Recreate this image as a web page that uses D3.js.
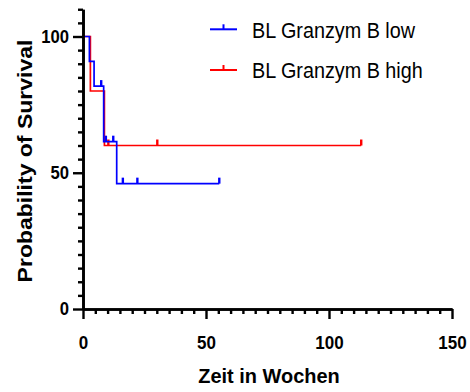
<!DOCTYPE html>
<html><head><meta charset="utf-8">
<script src="https://cdn.jsdelivr.net/npm/d3@7"></script>
<style>body{margin:0;background:#fff}svg{display:block}text{font-family:"Liberation Sans",Arial,sans-serif}</style>
</head><body>
<svg id="c" width="470" height="392"></svg>
<script>
// Kaplan-Meier step data (time in weeks, survival in %)
const lowTimes = [0, 2.6, 4.5, 8.4, 13.7];
const lowSurv = [100, 90.9, 81.8, 61.4, 46.0];
const lowEnd = 55.4;
const lowCensor = [7.4, 9.3, 12.3, 16.2, 22.1, 55.4];

const highTimes = [0, 3.0, 8.7];
const highSurv = [100, 80, 60];
const highEnd = 113.1;
const highCensor = [10.3, 30.2, 113.1];

const seriesNames = ["BL Granzym B low", "BL Granzym B high"];
const seriesColors = ["#0000ff", "#ff0000"];

const xMajor = [0, 50, 100, 150];
const yMajor = [0, 50, 100];
const xTitle = "Zeit in Wochen";
const yTitle = "Probability of Survival";

const svg = d3.select("#c");
const x = d3.scaleLinear().domain([0, 150]).range([83, 452]);
const y = d3.scaleLinear().domain([0, 110]).range([309, 9.25]);

const xMinor = d3.range(0, 151, 5).filter(v => v % 50 !== 0);
const yMinor = d3.range(0, 111, 5).filter(v => v % 50 !== 0);

// curves
const stepLine = d3.line().curve(d3.curveStepAfter).x(d => x(d[0])).y(d => y(d[1]));
function survAt(times, surv, t){ let s = surv[0]; for (let i=0;i<times.length;i++) if (times[i] <= t) s = surv[i]; return s; }
const series = [
  {times: lowTimes, surv: lowSurv, end: lowEnd, cens: lowCensor},
  {times: highTimes, surv: highSurv, end: highEnd, cens: highCensor}
];
[1, 0].forEach(i => {
  const s = series[i];
  const pts = s.times.map((t, j) => [t, s.surv[j]]);
  pts.push([s.end, s.surv[s.surv.length-1]]);
  svg.append("path").attr("d", stepLine(pts)).attr("fill", "none")
    .attr("stroke", seriesColors[i]).attr("stroke-width", 1.7);
  svg.append("g").selectAll("line").data(s.cens).join("line")
    .attr("x1", d => x(d)).attr("x2", d => x(d))
    .attr("y1", d => y(survAt(s.times, s.surv, d)))
    .attr("y2", d => y(survAt(s.times, s.surv, d)) - 6)
    .attr("stroke", seriesColors[i]).attr("stroke-width", 2.4);
});

// library axes: minor ticks, then major ticks with labels
const gx = svg.append("g").attr("transform", `translate(0,${y(0)})`);
gx.append("g").call(d3.axisBottom(x).tickValues(xMinor).tickSize(5).tickSizeOuter(0).tickFormat(""));
gx.append("g").call(d3.axisBottom(x).tickValues(xMajor).tickSize(10).tickSizeOuter(0).tickPadding(17).tickFormat(d3.format("d")));
const gy = svg.append("g").attr("transform", `translate(${x(0)},0)`);
gy.append("g").call(d3.axisLeft(y).tickValues(yMinor).tickSize(5).tickSizeOuter(0).tickFormat(""));
gy.append("g").call(d3.axisLeft(y).tickValues(yMajor).tickSize(10).tickSizeOuter(0).tickPadding(4).tickFormat(d3.format("d")));

svg.selectAll(".domain").attr("stroke", "#000").attr("stroke-width", 2.6);
svg.selectAll(".tick line").attr("stroke", "#000").attr("stroke-width", 2.4);
svg.selectAll(".tick text").attr("font-size", 18.5).attr("font-weight", "bold").attr("fill", "#000")
  .attr("font-family", "Liberation Sans, Arial, sans-serif");
gx.selectAll(".tick text").attr("transform", "scale(0.92,1)");
gy.selectAll(".tick text").attr("transform", "scale(0.9,1)").attr("x", -14 / 0.9);

// legend
const legY = [29.3, 70];
seriesNames.forEach((n, i) => {
  const g = svg.append("g");
  g.append("line").attr("x1", 210).attr("x2", 237).attr("y1", legY[i]).attr("y2", legY[i])
    .attr("stroke", seriesColors[i]).attr("stroke-width", 2);
  g.append("line").attr("x1", 223.5).attr("x2", 223.5).attr("y1", legY[i]).attr("y2", legY[i]-5)
    .attr("stroke", seriesColors[i]).attr("stroke-width", 2);
  g.append("text").attr("transform", `translate(252,${legY[i] + 8.4}) scale(0.9,1)`)
    .attr("font-size", 22).attr("fill", "#000").text(n);
});

// titles
svg.append("text").attr("transform", "translate(269,383.3) scale(0.95,1)").attr("text-anchor", "middle")
  .attr("font-size", 21).attr("font-weight", "bold").text(xTitle);
svg.append("text").attr("transform", "translate(31.5,161) rotate(-90) scale(1.18,1)").attr("text-anchor", "middle")
  .attr("font-size", 19.5).attr("font-weight", "bold").text(yTitle);
</script>
</body></html>
